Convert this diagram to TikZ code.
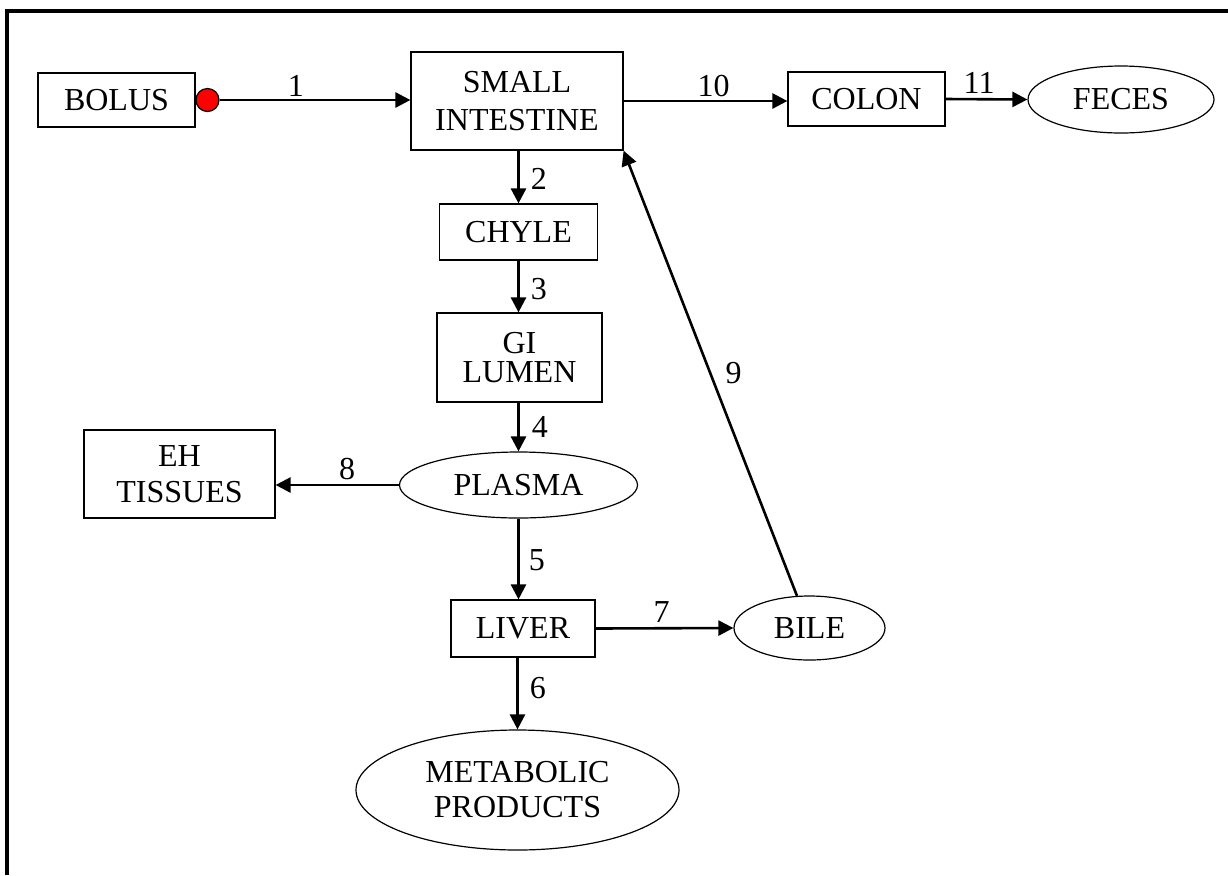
\documentclass[tikz,border=0pt]{standalone}
\usepackage{fontspec}
\setmainfont{Liberation Serif}
\usetikzlibrary{arrows.meta,shapes.geometric}
\begin{document}
\begin{tikzpicture}[x=0.5pt,y=-0.5pt,
  every node/.style={font=\fontsize{16}{19}\selectfont, inner sep=0pt},
  box/.style={draw, line width=0.6pt, rectangle, align=center},
  oval/.style={draw, line width=0.6pt, ellipse, align=center},
  arr/.style={line width=1.3pt, -{Triangle[length=7.5pt,width=7.5pt]}}]
\useasboundingbox (0,0) rectangle (1228,875);
% frame
\draw[line width=2pt] (7,875) -- (7,10.7) -- (1228,10.7);
% nodes
\node[box, minimum width=78.5pt, minimum height=27pt] (bolus) at (116.5,100) {BOLUS};
\node[circle, draw, fill=red, line width=0.6pt, minimum size=11.5pt] (dot) at (207.5,100) {};
\node[box, minimum width=106pt, minimum height=49pt, font=\fontsize{16}{19}\selectfont] (si) at (517,101) {SMALL\\INTESTINE};
\node[box, minimum width=78.5pt, minimum height=27pt] (colon) at (866.5,99) {COLON};
\node[oval, minimum width=93pt, minimum height=33.5pt] (feces) at (1121,99.5) {FECES};
\node[box, minimum width=79pt, minimum height=28pt] (chyle) at (518.5,232) {CHYLE};
\node[box, minimum width=82.5pt, minimum height=44.5pt, font=\fontsize{16}{14.5}\selectfont] (gilumen) at (519.5,357.5) {GI\\LUMEN};
\node[oval, minimum width=119pt, minimum height=33pt] (plasma) at (518.5,485) {PLASMA};
\node[box, minimum width=95.5pt, minimum height=44pt, font=\fontsize{16}{18}\selectfont] (eh) at (179.5,474) {EH\\TISSUES};
\node[box, minimum width=72pt, minimum height=28.5pt] (liver) at (523,628.5) {LIVER};
\node[oval, minimum width=75.5pt, minimum height=32pt] (bile) at (809.5,628) {BILE};
\node[oval, minimum width=161.5pt, minimum height=60pt, font=\fontsize{16}{17.5}\selectfont] (metab) at (517.5,790) {METABOLIC\\PRODUCTS};
% connectors
\draw[arr] (dot.east) -- node[pos=0.4, above=1pt] {1} (dot.east -| si.west);
\draw[arr] (si.south -| chyle.north) -- node[pos=0.54, right=5.5pt] {2} (chyle.north);
\draw[arr] (chyle.south) -- node[pos=0.55, right=5.5pt] {3} (chyle.south |- gilumen.north);
\draw[arr] (gilumen.south -| plasma.north) -- node[pos=0.5, right=6pt] {4} (plasma.north);
\draw[arr] (plasma.south) -- node[pos=0.51, right=4.5pt] {5} (plasma.south |- liver.north);
\draw[arr] (liver.south -| metab.north) -- node[pos=0.43, right=5.5pt] {6} (metab.north);
\draw[arr] (liver.east) -- node[pos=0.48, above=2pt] {7} (bile.west);
\draw[arr] (plasma.west) -- node[pos=0.42, above=2pt] {8} (plasma.west -| eh.east);
\draw[arr] (bile) -- node[pos=0.5, right=7pt] {9} (si.south east);
\draw[arr] (si.east) -- node[pos=0.55, above=1.5pt] {10} (si.east -| colon.west);
\draw[arr] (colon.east) -- node[pos=0.41, above=2pt] {11} (feces.west);
\end{tikzpicture}
\end{document}
